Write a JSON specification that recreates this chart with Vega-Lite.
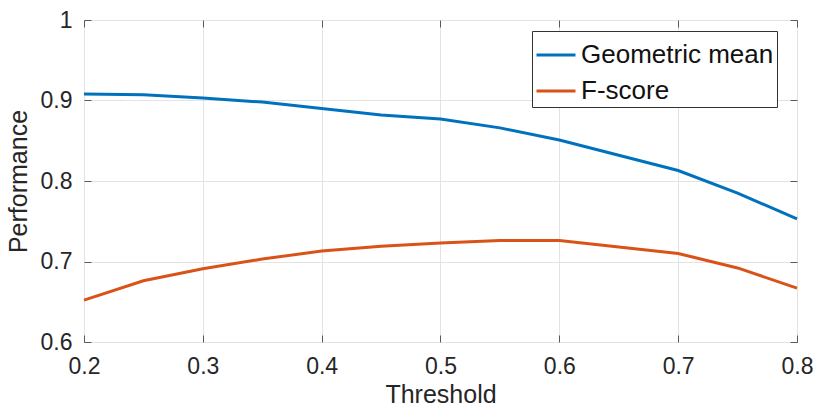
{
  "$schema": "https://vega.github.io/schema/vega-lite/v6.json",
  "width": 713,
  "height": 322,
  "autosize": {"type": "none"},
  "padding": {"left": 84, "top": 20, "right": 18, "bottom": 72},
  "background": "white",
  "config": {
    "view": {"stroke": "#5a5a5a", "strokeWidth": 1},
    "font": "Liberation Sans",
    "axis": {
      "domain": false,
      "gridColor": "#e3e3e3",
      "gridWidth": 1,
      "tickColor": "#5a5a5a",
      "tickSize": -7,
      "labelColor": "#262626",
      "titleColor": "#262626",
      "labelFontSize": 23,
      "titleFontSize": 25,
      "titleFontWeight": "normal",
      "labelFlush": false,
      "labelOverlap": false
    }
  },
  "data": {
    "values": [
      {"t": 0.2, "series": "Geometric mean", "v": 0.908},
      {"t": 0.25, "series": "Geometric mean", "v": 0.907},
      {"t": 0.3, "series": "Geometric mean", "v": 0.903},
      {"t": 0.35, "series": "Geometric mean", "v": 0.898},
      {"t": 0.4, "series": "Geometric mean", "v": 0.890},
      {"t": 0.45, "series": "Geometric mean", "v": 0.882},
      {"t": 0.5, "series": "Geometric mean", "v": 0.877},
      {"t": 0.55, "series": "Geometric mean", "v": 0.866},
      {"t": 0.6, "series": "Geometric mean", "v": 0.851},
      {"t": 0.65, "series": "Geometric mean", "v": 0.832},
      {"t": 0.7, "series": "Geometric mean", "v": 0.813},
      {"t": 0.75, "series": "Geometric mean", "v": 0.785},
      {"t": 0.8, "series": "Geometric mean", "v": 0.753},
      {"t": 0.2, "series": "F-score", "v": 0.652},
      {"t": 0.25, "series": "F-score", "v": 0.676},
      {"t": 0.3, "series": "F-score", "v": 0.691},
      {"t": 0.35, "series": "F-score", "v": 0.703},
      {"t": 0.4, "series": "F-score", "v": 0.713},
      {"t": 0.45, "series": "F-score", "v": 0.719},
      {"t": 0.5, "series": "F-score", "v": 0.723},
      {"t": 0.55, "series": "F-score", "v": 0.726},
      {"t": 0.6, "series": "F-score", "v": 0.726},
      {"t": 0.65, "series": "F-score", "v": 0.718},
      {"t": 0.7, "series": "F-score", "v": 0.710},
      {"t": 0.75, "series": "F-score", "v": 0.692},
      {"t": 0.8, "series": "F-score", "v": 0.667}
    ]
  },
  "layer": [
    {
      "mark": {"type": "line", "strokeWidth": 3},
      "encoding": {
        "x": {
          "field": "t", "type": "quantitative",
          "scale": {"domain": [0.2, 0.8], "nice": false, "zero": false},
          "axis": {"title": "Threshold", "values": [0.2, 0.3, 0.4, 0.5, 0.6, 0.7, 0.8], "format": "~g", "labelPadding": 20, "titlePadding": 4, "grid": true}
        },
        "y": {
          "field": "v", "type": "quantitative",
          "scale": {"domain": [0.6, 1], "nice": false, "zero": false},
          "axis": {"title": "Performance", "values": [0.6, 0.7, 0.8, 0.9, 1], "format": "~g", "labelPadding": 19, "titlePadding": 9, "grid": true}
        },
        "color": {
          "field": "series", "type": "nominal",
          "scale": {"domain": ["Geometric mean", "F-score"], "range": ["#0072BD", "#D95319"]},
          "legend": {
            "title": null,
            "orient": "none",
            "legendX": 448,
            "legendY": 11,
            "direction": "vertical",
            "symbolType": "stroke",
            "symbolSize": 1521,
            "symbolStrokeWidth": 3,
            "labelFontSize": 26,
            "labelLimit": 400,
            "labelColor": "#111",
            "labelOffset": 4,
            "padding": 3,
            "rowPadding": 2,
            "strokeColor": "#333",
            "fillColor": "white"
          }
        }
      }
    },
    {
      "mark": {"type": "line", "opacity": 0},
      "encoding": {
        "x": {"field": "t", "type": "quantitative", "axis": {"orient": "top", "title": null, "labels": false, "values": [0.2, 0.3, 0.4, 0.5, 0.6, 0.7, 0.8], "grid": false}},
        "y": {"field": "v", "type": "quantitative", "axis": {"orient": "right", "title": null, "labels": false, "values": [0.6, 0.7, 0.8, 0.9, 1], "grid": false}},
        "detail": {"field": "series"}
      }
    }
  ],
  "resolve": {"axis": {"x": "independent", "y": "independent"}}
}
